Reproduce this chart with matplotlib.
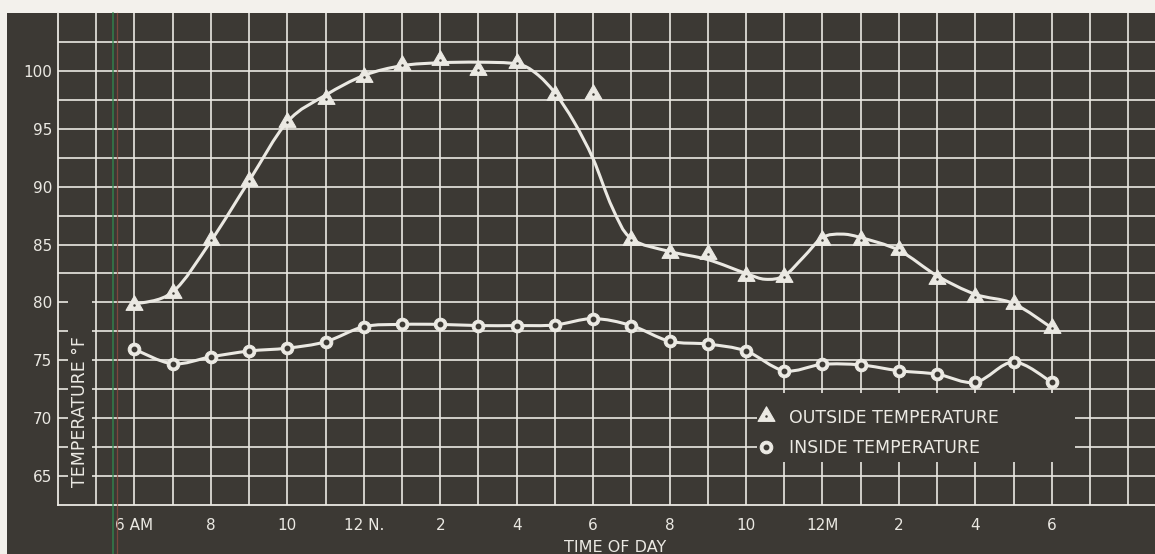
import matplotlib
matplotlib.use("Agg")
import matplotlib.pyplot as plt
import numpy as np
from matplotlib.lines import Line2D
from matplotlib.patches import PathPatch, Rectangle
from matplotlib.path import Path
from matplotlib.legend_handler import HandlerTuple

BG = "#3c3934"
INK = "#ebe9e3"

# hours after 6 AM
hours = list(range(25))
outside = [79.8, 80.8, 85.35, 90.5, 95.55, 97.6, 99.45, 100.5, 100.9, 100.1,
           100.7, 97.9, 98.0, 85.4, 84.3, 84.2, 82.3, 82.2, 85.4, 85.4,
           84.5, 82.0, 80.45, 79.85, 77.8]
inside = [75.95, 74.7, 75.3, 75.8, 76.05, 76.6, 77.9, 78.1, 78.1, 78.0,
          78.0, 78.05, 78.6, 78.0, 76.65, 76.4, 75.8, 74.1, 74.65, 74.6,
          74.1, 73.8, 73.1, 74.85, 73.1]

# hand-drawn trend line through the outside readings
curve_hours = [0, 1, 2, 3, 4, 5, 6, 7, 8, 9, 10, 10.5, 11, 11.5, 12,
               12.5, 13, 14, 15, 16, 16.5, 17, 17.5, 18, 18.5, 19, 20, 21,
               22, 23, 24]
curve_outside = [79.85, 80.9, 85.3, 90.5, 95.6, 97.9, 99.6, 100.45, 100.7,
                 100.75, 100.6, 99.8, 98.1, 95.6, 92.4, 88.2, 85.5,
                 84.4, 83.7, 82.5, 82.0, 82.3, 83.9, 85.6, 85.9, 85.6, 84.5,
                 82.3, 80.7, 79.9, 77.8]

x_tick_hours = [0, 2, 4, 6, 8, 10, 12, 14, 16, 18, 20, 22, 24]
x_tick_labels = ["6 AM", "8", "10", "12 N.", "2", "4", "6", "8", "10",
                 "12M", "2", "4", "6"]
y_ticks = [65, 70, 75, 80, 85, 90, 95, 100]


def smooth_path(xs, ys):
    # catmull-rom through the points, drawn as cubic bezier segments
    pts = np.column_stack([xs, ys]).astype(float)
    ext = np.vstack([pts[0], pts, pts[-1]])
    verts = [pts[0]]
    codes = [Path.MOVETO]
    for i in range(len(pts) - 1):
        p0, p1, p2, p3 = ext[i], ext[i + 1], ext[i + 2], ext[i + 3]
        verts += [p1 + (p2 - p0) / 6, p2 - (p3 - p1) / 6, p2]
        codes += [Path.CURVE4] * 3
    return Path(verts, codes)


def main():
    W, H = 1155, 554
    fig = plt.figure(figsize=(W / 100, H / 100), dpi=100)
    fig.patch.set_facecolor("#f3f1ec")
    fig.patches.append(Rectangle((7 / W, 0), 1 - 7 / W, 1 - 13 / H,
                                 transform=fig.transFigure, facecolor=BG,
                                 edgecolor="none", zorder=-1))

    ax = fig.add_axes([58 / W, 1 - 505 / H, 1 - 58 / W, (505 - 13) / H])
    ax.patch.set_visible(False)
    ax.set_xlim(-2, 26.7)
    ax.set_ylim(62.5, 105)

    ax.set_xticks(x_tick_hours)
    ax.set_xticklabels(x_tick_labels)
    ax.set_xticks(np.arange(-1, 27), minor=True)
    ax.set_yticks(y_ticks)
    ax.set_yticks(np.arange(65, 103, 2.5), minor=True)
    ax.grid(which="both", color=INK, linewidth=1.2)
    ax.tick_params(which="both", length=0, colors=INK, labelsize=11)
    ax.tick_params(axis="x", pad=9)
    ax.tick_params(axis="y", pad=4)
    for side in ["top", "right"]:
        ax.spines[side].set_visible(False)
    for side in ["left", "bottom"]:
        ax.spines[side].set_color(INK)
        ax.spines[side].set_linewidth(1.3)

    # blank panels behind the y label and the legend
    ax.add_patch(Rectangle((-1.74, 62.9), 0.64, 17.7, facecolor=BG,
                           edgecolor="none", zorder=1.8))
    ax.add_patch(Rectangle((16.28, 66.2), 8.32, 6.0, facecolor=BG,
                           edgecolor="none", zorder=1.8))
    ax.text(-1.43, 70.6, "TEMPERATURE °F", rotation=90, ha="center",
            va="center", color=INK, fontsize=12.5, zorder=3)

    ax.add_patch(PathPatch(smooth_path(curve_hours, curve_outside),
                           facecolor="none", edgecolor=INK, lw=2.2,
                           zorder=3))
    ax.add_patch(PathPatch(smooth_path(hours, inside), facecolor="none",
                           edgecolor=INK, lw=2.2, zorder=3))

    tri = Path([(0, 1), (-0.87, -0.5), (0.87, -0.5), (0, 1)],
               [Path.MOVETO, Path.LINETO, Path.LINETO, Path.CLOSEPOLY])
    t_mark, = ax.plot(hours, outside, ls="none", marker=tri, ms=14,
                      mfc=INK, mec=INK, mew=0.8, zorder=4)
    t_dot, = ax.plot(hours, outside, ls="none", marker="o", ms=1.8,
                     mfc=BG, mec=BG, mew=0, zorder=5)
    c_mark, = ax.plot(hours, inside, ls="none", marker="o", ms=9,
                      mfc=INK, mec=INK, mew=0.8, zorder=4)
    c_dot, = ax.plot(hours, inside, ls="none", marker="o", ms=3.2,
                     mfc=BG, mec=BG, zorder=5)

    ax.legend([(t_mark, t_dot), (c_mark, c_dot)],
              ["OUTSIDE TEMPERATURE", "INSIDE TEMPERATURE"],
              handler_map={tuple: HandlerTuple(ndivide=1)},
              loc="center left", bbox_to_anchor=(16.28, 68.75),
              bbox_transform=ax.transData, frameon=False, fontsize=12.5,
              handlelength=1.1, handletextpad=0.75, labelspacing=0.7,
              borderpad=0, borderaxespad=0, labelcolor=INK)

    fig.text(615 / W, 1 - 548 / H, "TIME OF DAY", ha="center", va="center",
             color=INK, fontsize=11.5)

    # registration marks from the scan
    fig.add_artist(Line2D([113 / W, 113 / W], [0, 1 - 13 / H],
                          color="#2f8a4e", lw=1.2, alpha=0.8))
    fig.add_artist(Line2D([117 / W, 117 / W], [0, 1 - 13 / H],
                          color="#8c4b3f", lw=0.9, alpha=0.8))

    fig.savefig("out.png", dpi=100, facecolor=fig.get_facecolor())


if __name__ == "__main__":
    main()
